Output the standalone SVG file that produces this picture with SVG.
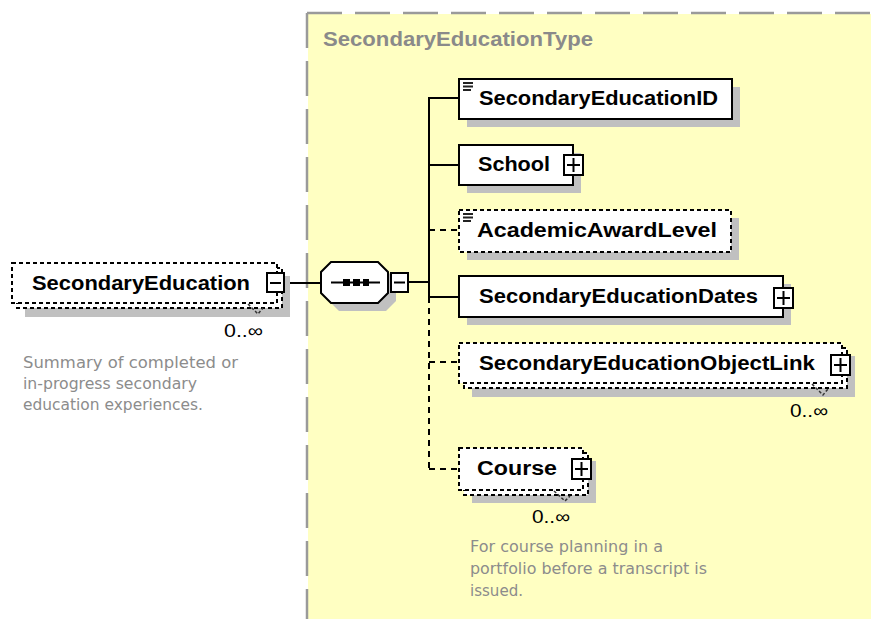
<svg xmlns="http://www.w3.org/2000/svg" width="871" height="619" viewBox="0 0 871 619">
<style>
.box{fill:#fff;stroke:#000;stroke-width:2}
.dbox{fill:#fff;stroke:#000;stroke-width:2;stroke-dasharray:4 3}
.sh{fill:#c0c0c0}
.lbl{font-family:"Liberation Sans",Arial,sans-serif;font-weight:bold;font-size:20px;fill:#000}
.occ{font-family:"Liberation Sans",Arial,sans-serif;font-size:18px;fill:#000}
.desc{font-family:"DejaVu Sans","Liberation Sans",sans-serif;font-size:15px;fill:#8c8c8c}
.btn{fill:#fff;stroke:#000;stroke-width:2}
.ln{stroke:#000;stroke-width:2;fill:none}
.dln{stroke:#000;stroke-width:2;fill:none;stroke-dasharray:6 5}
.mark{stroke:#333;stroke-width:1.5;fill:none;stroke-dasharray:3 2}
.doc{fill:#222}
</style>
<rect width="871" height="619" fill="#fff"/>
<g id="SecondaryEducationType">
<rect x="308" y="14" width="563" height="605" fill="#ffffc2"/>
<line x1="307" y1="13" x2="871" y2="13" stroke="#9a9a9a" stroke-width="2.5" stroke-dasharray="35 13"/>
<line x1="307" y1="13" x2="307" y2="619" stroke="#9a9a9a" stroke-width="2.5" stroke-dasharray="35 13"/>
<text x="323" y="46" font-family="Liberation Sans,Arial,sans-serif" font-weight="bold" font-size="20" fill="#8a8a8a" textLength="270" lengthAdjust="spacingAndGlyphs">SecondaryEducationType</text>
</g>
<g id="connectors">
<line class="ln" x1="285" y1="283" x2="321" y2="283"/>
<line class="ln" x1="409" y1="282" x2="429" y2="282"/>
<line class="ln" x1="429" y1="97" x2="429" y2="297"/>
<line class="dln" x1="429" y1="297" x2="429" y2="470"/>
<line class="ln" x1="429" y1="98" x2="459" y2="98"/>
<line class="ln" x1="429" y1="165" x2="459" y2="165"/>
<line class="dln" x1="429" y1="230" x2="459" y2="230"/>
<line class="ln" x1="429" y1="297" x2="459" y2="297"/>
<line class="dln" x1="429" y1="362" x2="459" y2="362"/>
<line class="dln" x1="429" y1="469" x2="459" y2="469"/>
</g>
<g id="SecondaryEducation">
<rect class="sh" x="25" y="276" width="265" height="41"/>
<rect class="dbox" x="17" y="268" width="265" height="40"/>
<rect class="dbox" x="12" y="263" width="265" height="40"/>
<text class="lbl" x="32" y="290" textLength="218" lengthAdjust="spacingAndGlyphs">SecondaryEducation</text>
<rect class="btn" x="267" y="273" width="17" height="19"/>
<line class="ln" x1="270" y1="283" x2="281" y2="283"/>
<polyline class="mark" points="248,304 258,314 263,308"/>
<text class="occ" x="224" y="337" textLength="39" lengthAdjust="spacingAndGlyphs">0..∞</text>
<text class="desc" x="23" y="368" textLength="215" lengthAdjust="spacingAndGlyphs">Summary of completed or</text>
<text class="desc" x="23" y="389" textLength="174" lengthAdjust="spacingAndGlyphs">in-progress secondary</text>
<text class="desc" x="23" y="410" textLength="180" lengthAdjust="spacingAndGlyphs">education experiences.</text>
</g>
<g id="sequence">
<polygon class="sh" points="339,270 386,270 396,280 396,301 386,311 339,311 329,301 329,280"/>
<polygon class="box" points="331,262 378,262 388,272 388,293 378,303 331,303 321,293 321,272"/>
<line class="ln" x1="331" y1="282.5" x2="380" y2="282.5"/>
<rect x="343" y="279" width="7" height="7" fill="#000"/>
<rect x="353" y="279" width="7" height="7" fill="#000"/>
<rect x="363" y="279" width="6" height="7" fill="#000"/>
<rect class="btn" x="391" y="273" width="17" height="19"/>
<line class="ln" x1="394" y1="282.5" x2="405" y2="282.5"/>
</g>
<g id="SecondaryEducationID">
<rect class="sh" x="467" y="87" width="273" height="40"/>
<rect class="box" x="459" y="79" width="273" height="40"/>
<rect class="doc" x="463" y="82" width="10" height="2"/>
<rect class="doc" x="463" y="85.5" width="10" height="2"/>
<rect class="doc" x="463" y="89" width="8" height="2"/>
<text class="lbl" x="479" y="105" textLength="239" lengthAdjust="spacingAndGlyphs">SecondaryEducationID</text>
</g>
<g id="School">
<rect class="sh" x="467" y="153" width="114" height="40"/>
<rect class="box" x="459" y="145" width="114" height="40"/>
<text class="lbl" x="478" y="171" textLength="72" lengthAdjust="spacingAndGlyphs">School</text>
<rect class="btn" x="564" y="155" width="19" height="20"/>
<line class="ln" x1="567" y1="165" x2="580" y2="165"/>
<line class="ln" x1="573.5" y1="158" x2="573.5" y2="172"/>
</g>
<g id="AcademicAwardLevel">
<rect class="sh" x="467" y="218" width="272" height="42"/>
<rect class="dbox" x="459" y="210" width="272" height="42"/>
<rect class="doc" x="463" y="213" width="10" height="2"/>
<rect class="doc" x="463" y="216.5" width="10" height="2"/>
<rect class="doc" x="463" y="220" width="8" height="2"/>
<text class="lbl" x="477" y="237" textLength="240" lengthAdjust="spacingAndGlyphs">AcademicAwardLevel</text>
</g>
<g id="SecondaryEducationDates">
<rect class="sh" x="467" y="284" width="324" height="41"/>
<rect class="box" x="459" y="276" width="324" height="41"/>
<text class="lbl" x="479" y="303" textLength="279" lengthAdjust="spacingAndGlyphs">SecondaryEducationDates</text>
<rect class="btn" x="774" y="288" width="19" height="20"/>
<line class="ln" x1="777" y1="298" x2="790" y2="298"/>
<line class="ln" x1="783.5" y1="291" x2="783.5" y2="305"/>
</g>
<g id="SecondaryEducationObjectLink">
<rect class="sh" x="472" y="356" width="383" height="41"/>
<rect class="dbox" x="464" y="348" width="383" height="40"/>
<rect class="dbox" x="459" y="343" width="383" height="40"/>
<text class="lbl" x="479" y="370" textLength="336" lengthAdjust="spacingAndGlyphs">SecondaryEducationObjectLink</text>
<rect class="btn" x="831" y="355" width="19" height="20"/>
<line class="ln" x1="834" y1="365" x2="847" y2="365"/>
<line class="ln" x1="840.5" y1="358" x2="840.5" y2="372"/>
<polyline class="mark" points="812,384 823,395 828,389"/>
<text class="occ" x="790" y="417" textLength="38" lengthAdjust="spacingAndGlyphs">0..∞</text>
</g>
<g id="Course">
<rect class="sh" x="472" y="461" width="124" height="42"/>
<rect class="dbox" x="464" y="453" width="124" height="42"/>
<rect class="dbox" x="459" y="448" width="124" height="42"/>
<text class="lbl" x="477" y="475" textLength="80" lengthAdjust="spacingAndGlyphs">Course</text>
<rect class="btn" x="572" y="459" width="19" height="20"/>
<line class="ln" x1="575" y1="469" x2="588" y2="469"/>
<line class="ln" x1="581.5" y1="462" x2="581.5" y2="476"/>
<polyline class="mark" points="554,491 565,501 570,496"/>
<text class="occ" x="532" y="523" textLength="38" lengthAdjust="spacingAndGlyphs">0..∞</text>
<text class="desc" x="470" y="552" textLength="193" lengthAdjust="spacingAndGlyphs">For course planning in a</text>
<text class="desc" x="470" y="574" textLength="237" lengthAdjust="spacingAndGlyphs">portfolio before a transcript is</text>
<text class="desc" x="470" y="596" textLength="53" lengthAdjust="spacingAndGlyphs">issued.</text>
</g>
</svg>
